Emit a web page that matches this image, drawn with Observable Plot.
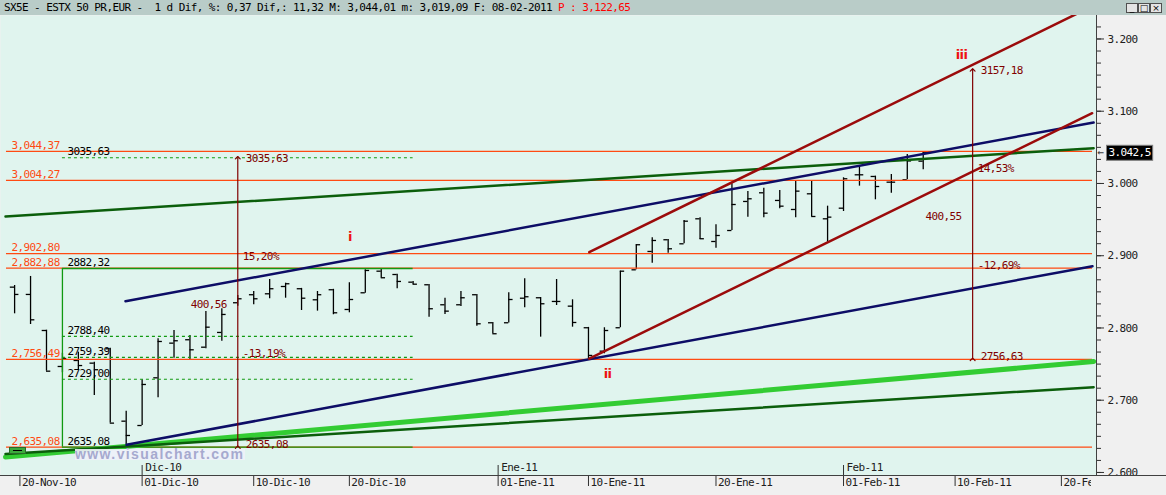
<!DOCTYPE html>
<html><head><meta charset="utf-8">
<script src="https://cdn.jsdelivr.net/npm/d3@7"></script>
<script src="https://cdn.jsdelivr.net/npm/@observablehq/plot@0.6"></script>
<style>
html,body{margin:0;padding:0;background:#f0f0f0;}
#wrap{position:relative;width:1166px;height:495px;overflow:hidden;font-family:"DejaVu Sans Mono",monospace;}
#header{position:absolute;left:0;top:0;width:1166px;height:15px;background:#b9ccc8;font-size:11px;letter-spacing:-0.6px;line-height:15px;white-space:pre;color:#000;}
#header .t{position:absolute;left:4px;top:0;}
.btn{position:absolute;top:3px;width:10px;height:8px;background:#e4e4e4;border:1px solid #505050;font:9px/8px "DejaVu Sans",sans-serif;text-align:center;color:#000;letter-spacing:0;}
#chart{position:absolute;left:0;top:15px;}
#chart svg text{letter-spacing:-0.6px;}
#wm{position:absolute;left:75px;top:449px;width:170px;height:11px;background:rgba(238,240,248,0.92);color:#a6a9cf;font:bold 14px/11px "Liberation Sans",Arial,sans-serif;letter-spacing:1.4px;white-space:nowrap;}
#obj{position:absolute;left:9px;top:447px;width:15px;height:5px;background:#3caa3c;border:1px solid #2a6a2a;}
#obj i{position:absolute;left:3px;top:2px;width:9px;height:1px;background:#000;}
</style></head>
<body>
<div id="wrap">
  <div id="header"><span class="t">SX5E - ESTX 50 PR,EUR -  1 d Dif, %: 0,37 Dif,: 11,32 M: 3,044,01 m: 3,019,09 F: 08-02-2011 <span style="color:#ff0000">P : 3,122,65</span></span>
    <div class="btn" style="left:1126px">_</div><div class="btn" style="left:1138px">□</div><div class="btn" style="left:1150px">×</div>
  </div>
  <div id="chart"></div>
  <div id="wm">www.visualchart.com</div>
  <div id="obj"><i></i></div>
</div>
<script>
// ---- daily bars (trading-day index 0 = 19-Nov-2010 ... 57 = 08-Feb-2011)
const dates = ["19-11","22-11","23-11","24-11","25-11","26-11","29-11","30-11","01-12","02-12","03-12","06-12","07-12","08-12","09-12","10-12","13-12","14-12","15-12","16-12","17-12","20-12","21-12","22-12","23-12","24-12","27-12","28-12","29-12","30-12","31-12","03-01","04-01","05-01","06-01","07-01","10-01","11-01","12-01","13-01","14-01","17-01","18-01","19-01","20-01","21-01","24-01","25-01","26-01","27-01","28-01","31-01","01-02","02-02","03-02","04-02","07-02","08-02"];
const openV  = [2856.5,2846.4,2796.5,2746.7,2755.0,2751.3,2771.2,2671.0,2665.0,2731.0,2779.0,2783.7,2773.4,2793.8,2834.9,2846.0,2847.3,2857.4,2854.3,2839.0,2852.9,2825.6,2848.7,2878.6,2874.0,2863.4,2859.8,2832.1,2832.1,2846.0,2807.2,2807.2,2841.2,2841.8,2836.7,2830.2,2800.3,2767.9,2800.3,2880.5,2905.9,2922.1,2916.5,2951.1,2919.7,2934.9,2975.1,2987.1,2976.5,2964.0,2985.7,2951.1,2965.8,3012.0,3009.7,3001.8,3005.1,3030.9];
const highV  = [2858.8,2871.3,2797.0,2765.0,2766.5,2752.6,2772.0,2684.8,2728.3,2785.0,2796.5,2789.6,2822.8,2826.6,2845.0,2850.5,2867.1,2862.0,2854.8,2850.5,2853.5,2862.6,2880.5,2882.32,2874.5,2864.4,2860.2,2841.2,2850.5,2846.5,2807.6,2848.7,2868.1,2842.2,2867.1,2839.0,2800.8,2800.3,2878.6,2915.2,2924.8,2922.6,2948.8,2952.5,2942.8,2999.6,2988.9,2993.5,2990.3,3003.2,3003.2,2968.6,3007.9,3023.5,3010.2,3012.5,3040.1,3044.01];
const lowV   = [2819.6,2804.8,2740.2,2738.0,2741.0,2706.6,2668.3,2635.08,2665.0,2703.4,2758.2,2756.4,2771.2,2781.7,2830.0,2832.1,2840.4,2841.2,2824.2,2823.3,2818.3,2821.0,2848.0,2869.0,2854.3,2859.7,2815.0,2818.7,2829.8,2802.5,2792.0,2806.8,2828.0,2787.3,2831.1,2801.1,2756.63,2764.3,2800.3,2880.5,2889.7,2903.5,2916.5,2922.5,2910.5,2934.9,2953.4,2952.5,2965.0,2952.5,2954.3,2918.8,2961.2,2996.3,2977.4,2986.6,3005.1,3019.09];
const closeV = [2846.4,2811.3,2740.2,2757.8,2748.0,2742.2,2668.3,2651.2,2721.8,2781.3,2782.3,2769.8,2801.1,2818.7,2840.4,2840.4,2854.3,2861.2,2841.2,2846.0,2821.0,2839.4,2879.6,2869.5,2864.4,2860.6,2826.6,2823.3,2841.8,2805.8,2792.0,2839.4,2843.2,2833.5,2836.7,2807.6,2762.0,2796.5,2878.6,2915.2,2921.1,2909.6,2947.8,2923.5,2928.0,2970.9,2978.8,2958.9,2968.6,2989.4,2954.3,2953.4,3006.5,3012.0,2995.8,3001.8,3031.18,3042.5];
const lastClose = 3042.5;
const lastCloseLabel = "3.042,5";

// ---- axes
const yMajorTicks = [2600, 2700, 2800, 2900, 3000, 3100, 3200];
const xTickPos    = [0.333, 8, 15, 21, 30.333, 36, 44, 52, 59, 65.667];
const xTickLabels = ["20-Nov-10","01-Dic-10","10-Dic-10","20-Dic-10","01-Ene-11","10-Ene-11","20-Ene-11","01-Feb-11","10-Feb-11","20-Feb-11"];
const monthPos    = [8, 30.333, 52];
const monthLabels = ["Dic-10","Ene-11","Feb-11"];

// ---- horizontal (orange) levels
const levels      = [3044.37, 3004.27, 2902.80, 2882.88, 2756.49, 2635.08];
const levelLabels = ["3,044,37","3,004,27","2,902,80","2,882,88","2,756,49","2,635,08"];
const levelStart = -0.51, levelEnd = 67.62;

// ---- Fibonacci box (bar 3 to bar 25)
const fibStart = 3, fibEnd = 25;
const fibBox       = [2882.32, 2635.08];
const fibDashed    = [3035.63, 2788.40, 2759.39, 2729.00];
const fibLabelVals = [3035.63, 2882.32, 2788.40, 2759.39, 2729.00, 2635.08];
const fibLabels    = ["3035,63","2882,32","2788,40","2759,39","2729,00","2635,08"];

// ---- trend lines [index, value]
const darkGreenUpper = [[-0.571, 2954.3], [67.69, 3048.9]];
const navyUpper      = [[6.957, 2837.1], [67.69, 3084.4]];
const navyLower      = [[7.02, 2638.3], [67.62, 2885.5]];
const lightGreen     = [[-0.571, 2621.5], [67.69, 2753.6]];
const darkGreenLower = [[-0.571, 2625.6], [67.69, 2718.1]];
const maroonUpper    = [[36.05, 2904.9], [67.87, 3248.2]];
const maroonLower    = [[36.05, 2757.4], [67.6, 3097.3]];

// ---- measurements
const measureX     = [14, 60.1];
const measureLow   = [2635.08, 2756.63];
const measureHigh  = [3035.63, 3157.18];
const measureHiLbl = ["3035,63","3157,18"];
const measureLoLbl = ["2635,08","2756,63"];
const measureRange = ["400,56","400,55"];
const measureUp    = ["15,20%","14,53%"];
const measureDown  = ["-13,19%","-12,69%"];

// ---- wave labels
const waveText = ["i","ii","iii"];
const waveX    = [21.03, 37.2, 59.4];
const waveY    = [2926.6, 2736.3, 3178.3];

const n = openV.length, idx = d3.range(n), mIdx = d3.range(measureX.length);
const X0 = -0.885, X1 = 67.87, Y0 = 2595.8, Y1 = 3232.5;
const orange = "#ff4a12", maroon = "#800000";
const yMinorTicks = d3.range(0, 39).map(k => 2600 + k * 100 / 6).filter(v => v <= Y1);
const lineOf = (pts, stroke, w) => Plot.line(pts, {x: d => d[0], y: d => d[1], stroke, strokeWidth: w, clip: true});

const chart = Plot.plot({
  width: 1166, height: 480,
  marginLeft: 0, marginRight: 70, marginTop: 0, marginBottom: 20,
  x: {domain: [X0, X1], axis: null},
  y: {domain: [Y0, Y1], axis: null},
  style: {background: "#f0f0f0", fontFamily: "DejaVu Sans Mono", fontSize: "11px", color: "#000", overflow: "visible"},
  marks: [
    Plot.frame({fill: "#e0f4ee", stroke: null}),
    // bars
    Plot.ruleX(idx, {x: i => i, y1: i => lowV[i], y2: i => highV[i], stroke: "#000", strokeWidth: 1.3}),
    Plot.ruleY(idx, {y: i => openV[i], x1: i => i - 0.27, x2: i => i, stroke: "#000", strokeWidth: 1.3}),
    Plot.ruleY(idx, {y: i => closeV[i], x1: i => i, x2: i => i + 0.27, stroke: "#000", strokeWidth: 1.3}),
    // orange levels
    Plot.ruleY(levels, {y: d => d, x1: levelStart, x2: levelEnd, stroke: orange, strokeWidth: 1.2}),
    // fib
    Plot.ruleY(fibDashed, {y: d => d, x1: fibStart, x2: fibEnd, stroke: "#119911", strokeWidth: 1.2, strokeDasharray: "3,3"}),
    Plot.ruleY(fibBox, {y: d => d, x1: fibStart, x2: fibEnd, stroke: "#119911", strokeWidth: 1.3}),
    Plot.ruleX([fibStart], {x: d => d, y1: fibBox[1], y2: fibBox[0], stroke: "#119911", strokeWidth: 1.3}),
    // trend lines
    lineOf(lightGreen, "#33cc33", 5),
    lineOf(darkGreenLower, "#0b5e0b", 2.5),
    lineOf(darkGreenUpper, "#0b5e0b", 2.5),
    lineOf(navyUpper, "#0d0d66", 2.5),
    lineOf(navyLower, "#0d0d66", 2.5),
    lineOf(maroonUpper, "#9b0b0b", 2.5),
    lineOf(maroonLower, "#9b0b0b", 2.5),
    // measurements
    Plot.link(mIdx, {x1: i => measureX[i], x2: i => measureX[i], y1: i => measureLow[i], y2: i => measureHigh[i], stroke: maroon, strokeWidth: 1.2, markerStart: "arrow", markerEnd: "arrow"}),
    Plot.text(mIdx, {x: i => measureX[i], y: i => measureHigh[i], text: i => measureHiLbl[i], dx: 8, dy: 1, textAnchor: "start", fill: maroon}),
    Plot.text(mIdx, {x: i => measureX[i], y: i => measureLow[i], text: i => measureLoLbl[i], dx: 8, dy: -3, textAnchor: "start", fill: maroon}),
    Plot.text(mIdx, {x: i => measureX[i], y: i => measureLow[i] + 0.66 * (measureHigh[i] - measureLow[i]), text: i => measureUp[i], dx: 5, textAnchor: "start", fill: maroon}),
    Plot.text(mIdx, {x: i => measureX[i], y: i => measureLow[i] + 0.493 * (measureHigh[i] - measureLow[i]), text: i => measureRange[i], dx: -11, textAnchor: "end", fill: maroon}),
    Plot.text(mIdx, {x: i => measureX[i], y: i => measureLow[i] + 0.324 * (measureHigh[i] - measureLow[i]), text: i => measureDown[i], dx: 5, textAnchor: "start", fill: maroon}),
    // level labels
    Plot.text(levels, {x: levelStart, y: d => d, text: (d, i) => levelLabels[i], dx: 5, dy: -6, textAnchor: "start", fill: orange}),
    Plot.text(fibLabelVals, {x: fibStart, y: d => d, text: (d, i) => fibLabels[i], dx: 5, dy: -6, textAnchor: "start", fill: "#000"}),
    // wave labels
    Plot.text(waveText, {x: (d, i) => waveX[i], y: (d, i) => waveY[i], text: d => d, fill: "#ee1111", fontWeight: "bold", fontFamily: "DejaVu Sans", fontSize: 13}),
    // right border + y axis
    Plot.ruleX([X1], {stroke: "#404040"}),
    Plot.axisY(yMinorTicks, {anchor: "right", tickSize: 4, tickFormat: () => "", stroke: "#303030"}),
    Plot.axisY(yMajorTicks, {anchor: "right", tickSize: 7, tickPadding: 4, tickFormat: d => (d / 1000).toFixed(3), stroke: "#303030", fill: "#202020"}),
    Plot.text([lastClose], {y: d => d, frameAnchor: "right", dx: 1, text: ["←"], textAnchor: "start", fill: "#404040"}),
    Plot.text([lastClose], {y: d => d, frameAnchor: "right", dx: 12, text: [lastCloseLabel], textAnchor: "start", fill: "#ffffff"}),
    // x axis
    Plot.axisX(xTickPos, {anchor: "bottom", tickSize: 11, tickFormat: () => "", stroke: "#303030"}),
    Plot.text(xTickPos, {x: d => d, frameAnchor: "bottom", dy: 10.5, dx: 2, text: (d, i) => xTickLabels[i], textAnchor: "start", fill: "#202020"}),
    Plot.axisX(monthPos, {anchor: "bottom", tickSize: -10, tickFormat: () => "", stroke: "#303030"}),
    Plot.text(monthPos, {x: d => d, frameAnchor: "bottom", dy: -5, dx: 3, text: (d, i) => monthLabels[i], textAnchor: "start", fill: "#202020"})
  ]
});
document.getElementById("chart").append(chart);

// decorations: black box behind last price, clip of date labels, bottom border
const svgSel = d3.select(chart);
svgSel.selectAll("text").filter(function () { return this.textContent === lastCloseLabel; }).each(function () {
  const b = this.getBBox();
  const r = document.createElementNS("http://www.w3.org/2000/svg", "rect");
  r.setAttribute("x", b.x - 2); r.setAttribute("y", b.y - 1);
  r.setAttribute("width", b.width + 4); r.setAttribute("height", b.height + 2);
  r.setAttribute("fill", "#000"); r.setAttribute("stroke", "#808080");
  if (this.getAttribute("transform")) r.setAttribute("transform", this.getAttribute("transform"));
  this.parentNode.insertBefore(r, this);
});
const defs = svgSel.append("defs");
defs.append("clipPath").attr("id", "xlabclip").append("rect").attr("x", 0).attr("y", 0).attr("width", 1091).attr("height", 480);
svgSel.selectAll("text").filter(function () { return this.textContent === "20-Feb-11"; }).each(function () {
  const g = this.parentNode;
  const wrapG = document.createElementNS("http://www.w3.org/2000/svg", "g");
  wrapG.setAttribute("clip-path", "url(#xlabclip)");
  g.parentNode.insertBefore(wrapG, g);
  wrapG.appendChild(g);
});
svgSel.append("line").attr("x1", 0).attr("x2", 1166).attr("y1", 460.5).attr("y2", 460.5).attr("stroke", "#404040");
</script>
</body></html>
